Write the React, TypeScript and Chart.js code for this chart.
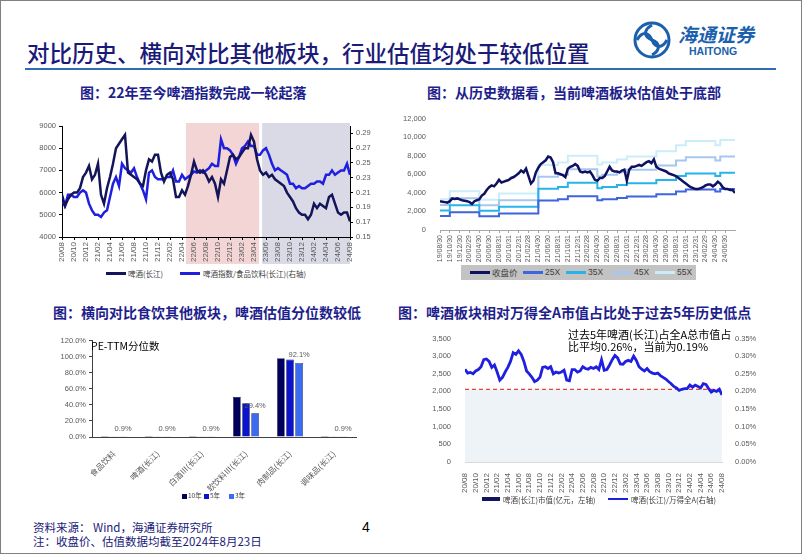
import React, { useEffect, useRef } from "react";
import { Chart, registerables } from "chart.js";

Chart.register(...registerables);

const LATIN = "'Liberation Sans', Arial, 'Noto Sans CJK SC', sans-serif";
const CJK = "'Noto Sans CJK SC', 'Liberation Sans', sans-serif";
const TICK_COLOR = "#595959";
const NAVY = "#14145a";
const BLUE = "#1f1fe0";

// ---------------- Chart 1: 啤酒指数 vs 啤酒/食品饮料 ----------------
const c1TickLabels = ["20/08", "20/10", "20/12", "21/02", "21/04", "21/06", "21/08", "21/10", "21/12", "22/02", "22/04", "22/06", "22/08", "22/10", "22/12", "23/02", "23/04", "23/06", "23/08", "23/10", "23/12", "24/02", "24/04", "24/06", "24/08"];
const c1PointsPerTick = 4;
const c1LeftMin = 4000;
const c1LeftMax = 9000;
const c1LeftStep = 500;
const c1RightTicks = [0.15, 0.17, 0.19, 0.21, 0.23, 0.25, 0.27, 0.29];
const c1RightMax = 0.3;
const c1Beer = [
  5900, 5400, 5700, 5900, 6000, 6000, 6200, 6700, 6900, 7200,
  6600, 6800, 7300, 5900, 5500, 6200, 6700, 7300, 8000, 8200,
  8400, 8600, 6900, 6800, 6700, 6600, 6400, 6300, 7000, 7500,
  7400, 7700, 7700, 6900, 6500, 6800, 6900, 6600, 5800, 5800,
  6100, 5900, 6300, 6800, 7400, 7000, 6900, 7000, 6800, 6500,
  6700, 6400, 5800, 6600, 6400, 7000, 7600, 7700, 7500, 7600,
  7800, 8000, 8000, 8600, 8300, 7500, 7000, 6800, 6900, 6700,
  6800, 6600, 6500, 6400, 6300, 6000, 5800, 5600, 5300, 5100,
  5000, 5000, 4800, 5000, 5500, 5300, 5500, 5400, 5300, 5800,
  5900, 5500, 5100, 5000, 5100, 5100, 4700,
];
const c1Ratio = [
  0.198, 0.192, 0.207, 0.207, 0.204, 0.204, 0.21, 0.213, 0.21, 0.195,
  0.186, 0.18, 0.18, 0.177, 0.183, 0.186, 0.204, 0.222, 0.231, 0.219,
  0.249, 0.243, 0.24, 0.237, 0.243, 0.231, 0.222, 0.213, 0.201, 0.237,
  0.24, 0.231, 0.228, 0.228, 0.228, 0.231, 0.231, 0.24, 0.225, 0.225,
  0.234, 0.228, 0.231, 0.234, 0.2385, 0.237, 0.24, 0.237, 0.24, 0.243,
  0.249, 0.246, 0.246, 0.282, 0.27, 0.27, 0.267, 0.261, 0.249, 0.258,
  0.27, 0.273, 0.279, 0.273, 0.273, 0.261, 0.261, 0.267, 0.27, 0.261,
  0.249, 0.24, 0.243, 0.24, 0.237, 0.234, 0.222, 0.222, 0.216, 0.219,
  0.216, 0.216, 0.219, 0.222, 0.222, 0.225, 0.225, 0.222, 0.234, 0.234,
  0.24, 0.234, 0.237, 0.24, 0.24, 0.249, 0.234,
];
const c1BandStart = [41.3, 66.7];
const c1BandEnd = [65.7, 96];
const c1BandColors = ["#f3d5d5", "#d9dae6"];

// ---------------- Chart 2: PE band ----------------
const c2TickLabels = ["19/08/30", "19/10/30", "19/12/30", "20/02/29", "20/04/30", "20/06/30", "20/08/31", "20/10/31", "20/12/31", "21/02/28", "21/04/30", "21/06/30", "21/08/31", "21/10/31", "21/12/31", "22/02/28", "22/04/30", "22/06/30", "22/08/31", "22/10/31", "22/12/31", "23/02/28", "23/04/30", "23/06/30", "23/08/31", "23/10/31", "23/12/31", "24/02/29", "24/04/30", "24/06/30"];
const c2MonthsPerTick = 2;
const c2MonthsPerPoint = 0.5;
const c2MaxMonth = 60;
const c2Close = [
  3100, 3050, 3000, 2950, 3100, 3400, 3350, 3400, 3300, 3200,
  3150, 3100, 3000, 2800, 3100, 3200, 3300, 3700, 3900, 4300,
  4600, 4800, 4700, 5000, 5400, 5100, 5200, 5300, 5400, 5600,
  5700, 5900, 6100, 6400, 6200, 6600, 5800, 5000, 5300, 6200,
  6700, 7100, 7300, 7500, 7900, 7800, 7300, 6100, 6100, 6000,
  5900, 5700, 6600, 6800, 6900, 7100, 6900, 6300, 6200, 6300,
  6200, 6300, 5900, 5400, 5300, 5600, 5600, 5800, 6300, 6800,
  6400, 6300, 6300, 6200, 6400, 6500, 5300, 6500, 6800, 6800,
  6900, 7000, 6900, 7100, 7300, 7400, 7200, 7600, 6800, 6600,
  6500, 6400, 6300, 6100, 6000, 5900, 5800, 5600, 5400, 5200,
  5000, 4800, 4600, 4500, 4400, 4400, 4500, 4600, 4800, 4900,
  4900, 4700, 4900, 5200, 5000, 4600, 4400, 4400, 4300, 4300,
  4000,
];
const c2StepMonths = [0, 2, 8, 12, 20, 24, 26, 32, 33, 36, 38, 44, 48, 50, 56, 57, 60];
const c2Pe25 = [1500, 1900, 1480, 1780, 3180, 3300, 3630, 3200, 3300, 3450, 3600, 3850, 4150, 4350, 4150, 4400, 4400];
const c2Pe35 = [2100, 2660, 2070, 2490, 4450, 4620, 5080, 4480, 4620, 4830, 5040, 5390, 5810, 6090, 5810, 6160, 6160];
const c2Pe45 = [2700, 3420, 2660, 3200, 5720, 5940, 6530, 5760, 5940, 6210, 6480, 6930, 7470, 7830, 7470, 7920, 7920];
const c2Pe55 = [3300, 4180, 3260, 3920, 7000, 7260, 7990, 7040, 7260, 7590, 7920, 8470, 9130, 9570, 9130, 9680, 9680];

// ---------------- Chart 3: PE-TTM 分位数 ----------------
const c3Categories = ["食品饮料", "啤酒(长江)", "白酒Ⅲ(长江)", "软饮料Ⅲ(长江)", "肉制品(长江)", "调味品(长江)"];
const c3Y10 = [0.1, 0.1, 0.1, 49.6, 98.0, 0.1];
const c3Y5 = [0.4, 0.4, 0.4, 41.9, 96.3, 0.4];
const c3Y3 = [0.9, 0.9, 0.9, 29.4, 92.1, 0.9];

// ---------------- Chart 4: 啤酒/万得全A ----------------
const c4TickLabels = c1TickLabels;
const c4PointsPerTick = 4;
const c4LeftTicks = [0, 500, 1000, 1500, 2000, 2500, 3000, 3500];
const c4RightTicks = [0, 0.05, 0.1, 0.15, 0.2, 0.25, 0.3, 0.35];
const c4Ratio = [
  0.263, 0.252, 0.254, 0.25, 0.258, 0.262, 0.27, 0.29, 0.292, 0.285,
  0.268, 0.275, 0.255, 0.232, 0.24, 0.255, 0.268, 0.285, 0.31, 0.305,
  0.315, 0.305, 0.285, 0.258, 0.25, 0.24, 0.228, 0.232, 0.24, 0.268,
  0.27, 0.265, 0.27, 0.25, 0.255, 0.252, 0.255, 0.26, 0.232, 0.23,
  0.262, 0.262, 0.255, 0.258, 0.27, 0.265, 0.263, 0.268, 0.265, 0.27,
  0.262, 0.29, 0.26, 0.262, 0.275, 0.29, 0.302, 0.295, 0.278, 0.277,
  0.285, 0.288, 0.285, 0.3, 0.288, 0.27, 0.263, 0.258, 0.265, 0.256,
  0.252, 0.25, 0.252, 0.245, 0.24, 0.235, 0.228, 0.222, 0.214, 0.21,
  0.203, 0.206, 0.208, 0.208, 0.218, 0.212, 0.218, 0.214, 0.21, 0.222,
  0.22, 0.208, 0.198, 0.203, 0.2, 0.206, 0.19,
];
const c4AvgLevel = 0.206;
const c4AvgFrom = 0;
const c4AvgTo = 96;

// ---------------- helpers ----------------
const fixWidth = (w: number) => (s: any) => { s.width = w; };
const fixHeight = (h: number) => (s: any) => { s.height = h; };
const tickFont = (size: number, family = LATIN) => ({ family, size });

const c1BandPlugin = {
  id: "c1bands",
  beforeDraw(chart: any) {
    const { ctx, chartArea, scales } = chart;
    ctx.save();
    c1BandStart.forEach((from, i) => {
      const x0 = scales.x.getPixelForValue(from);
      const x1 = scales.x.getPixelForValue(c1BandEnd[i]);
      ctx.fillStyle = c1BandColors[i];
      ctx.fillRect(x0, chartArea.top - 3, x1 - x0, chartArea.bottom - chartArea.top + 30);
    });
    ctx.restore();
  },
};

const c3LabelPlugin = {
  id: "c3labels",
  afterDatasetsDraw(chart: any) {
    const { ctx } = chart;
    const meta = chart.getDatasetMeta(2);
    ctx.save();
    ctx.font = `7.5px ${LATIN}`;
    ctx.fillStyle = TICK_COLOR;
    ctx.textAlign = "center";
    ctx.textBaseline = "bottom";
    meta.data.forEach((el: any, i: number) => {
      ctx.fillText(c3Y3[i].toFixed(1) + "%", el.x, el.y - 4);
    });
    ctx.restore();
  },
};

function buildChart1(canvas: HTMLCanvasElement) {
  return new Chart(canvas, {
    type: "line",
    data: {
      datasets: [
        { label: "啤酒(长江)", data: c1Beer.map((v, i) => ({ x: i, y: v })), yAxisID: "y", borderColor: NAVY, borderWidth: 2.5, pointRadius: 0 },
        { label: "啤酒指数/食品饮料(长江)(右轴)", data: c1Ratio.map((v, i) => ({ x: i, y: v })), yAxisID: "y1", borderColor: BLUE, borderWidth: 2.5, pointRadius: 0 },
      ],
    },
    options: {
      responsive: false,
      animation: false,
      devicePixelRatio: 1,
      layout: { padding: { top: 8, left: 0, right: 0, bottom: 0 } },
      plugins: { legend: { display: false }, tooltip: { enabled: false } },
      scales: {
        x: {
          type: "linear",
          min: 0,
          max: (c1TickLabels.length - 1) * c1PointsPerTick,
          afterBuildTicks: (s: any) => { s.ticks = c1TickLabels.map((_, i) => ({ value: i * c1PointsPerTick })); },
          afterFit: fixHeight(31),
          ticks: { autoSkip: false, minRotation: 90, maxRotation: 90, padding: 2, color: TICK_COLOR, font: tickFont(8), callback: (v: any) => c1TickLabels[Math.round(v / c1PointsPerTick)] },
          grid: { display: true, drawOnChartArea: false, tickLength: 3, color: "#000" },
          border: { display: true, color: "#000" },
        },
        y: {
          position: "left",
          min: c1LeftMin,
          max: c1LeftMax,
          afterFit: fixWidth(42),
          ticks: { stepSize: c1LeftStep, padding: 3, color: TICK_COLOR, font: tickFont(7.5), callback: (v: any) => String(v) },
          grid: { display: true, drawOnChartArea: false, tickLength: 3, color: "#000" },
          border: { display: true, color: "#000" },
        },
        y1: {
          position: "right",
          min: c1RightTicks[0],
          max: c1RightMax,
          afterBuildTicks: (s: any) => { s.ticks = c1RightTicks.map((v) => ({ value: v })); },
          afterFit: fixWidth(40),
          ticks: { padding: 3, color: TICK_COLOR, font: tickFont(7.5), callback: (v: any) => Number(v).toFixed(2) },
          grid: { display: true, drawOnChartArea: false, tickLength: 3, color: "#000" },
          border: { display: true, color: "#000" },
        },
      },
    },
    plugins: [c1BandPlugin],
  } as any);
}

function stepData(values: number[]) {
  return values.map((v, i) => ({ x: c2StepMonths[i], y: v }));
}

function buildChart2(canvas: HTMLCanvasElement) {
  const stepStyle = { stepped: true, borderWidth: 2, pointRadius: 0 };
  return new Chart(canvas, {
    type: "line",
    data: {
      datasets: [
        { label: "收盘价", data: c2Close.map((v, i) => ({ x: i * c2MonthsPerPoint, y: v })), borderColor: "#101060", borderWidth: 2.5, pointRadius: 0 },
        { label: "25X", data: stepData(c2Pe25), borderColor: "#3e64e0", ...stepStyle },
        { label: "35X", data: stepData(c2Pe35), borderColor: "#27b4ea", ...stepStyle },
        { label: "45X", data: stepData(c2Pe45), borderColor: "#a7c7ee", ...stepStyle },
        { label: "55X", data: stepData(c2Pe55), borderColor: "#cbedf9", ...stepStyle },
      ],
    },
    options: {
      responsive: false,
      animation: false,
      devicePixelRatio: 1,
      layout: { padding: { top: 9, left: 0, right: 15, bottom: 0 } },
      plugins: { legend: { display: false }, tooltip: { enabled: false } },
      scales: {
        x: {
          type: "linear",
          min: 0,
          max: c2MaxMonth,
          afterBuildTicks: (s: any) => { s.ticks = c2TickLabels.map((_, i) => ({ value: i * c2MonthsPerTick })); },
          afterFit: fixHeight(35),
          ticks: { autoSkip: false, minRotation: 90, maxRotation: 90, padding: 2, color: TICK_COLOR, font: tickFont(7), callback: (v: any) => c2TickLabels[Math.round(v / c2MonthsPerTick)] },
          grid: { display: true, drawOnChartArea: false, tickLength: 3, color: "#a6a6a6" },
          border: { display: true, color: "#a6a6a6" },
        },
        y: {
          min: 0,
          max: 12000,
          afterFit: fixWidth(45),
          ticks: { stepSize: 2000, padding: 6, color: TICK_COLOR, font: tickFont(7.5), callback: (v: any) => Number(v).toLocaleString("en-US") },
          grid: { display: false },
          border: { display: false },
        },
      },
    },
  } as any);
}

function buildChart3(canvas: HTMLCanvasElement) {
  const common = { categoryPercentage: 0.62, barPercentage: 0.85, borderWidth: 0.6, borderColor: "#101040" };
  return new Chart(canvas, {
    type: "bar",
    data: {
      labels: c3Categories,
      datasets: [
        { label: "10年", data: c3Y10, backgroundColor: "#00005c", ...common },
        { label: "5年", data: c3Y5, backgroundColor: "#0a14cf", ...common },
        { label: "3年", data: c3Y3, backgroundColor: "#3a6cf0", ...common },
      ],
    },
    options: {
      responsive: false,
      animation: false,
      devicePixelRatio: 1,
      layout: { padding: { top: 7, left: 0, right: 9, bottom: 0 } },
      plugins: { legend: { display: false }, tooltip: { enabled: false } },
      scales: {
        x: {
          afterFit: fixHeight(56),
          ticks: { autoSkip: false, minRotation: 45, maxRotation: 45, padding: 4, color: TICK_COLOR, font: tickFont(8, CJK) },
          grid: { display: false },
          border: { display: true, color: "#404040" },
        },
        y: {
          min: 0,
          max: 120,
          afterFit: fixWidth(57),
          ticks: { stepSize: 20, padding: 3, color: TICK_COLOR, font: tickFont(7.5), callback: (v: any) => Number(v).toFixed(1) + "%" },
          grid: { display: true, drawOnChartArea: false, tickLength: 3, color: "#404040" },
          border: { display: true, color: "#404040" },
        },
      },
    },
    plugins: [c3LabelPlugin],
  } as any);
}

function buildChart4(canvas: HTMLCanvasElement) {
  return new Chart(canvas, {
    type: "line",
    data: {
      datasets: [
        { label: "啤酒(长江)/万得全A(右轴)", data: c4Ratio.map((v, i) => ({ x: i, y: v })), yAxisID: "y1", borderColor: BLUE, borderWidth: 2.8, pointRadius: 0 },
        { label: "avg", data: [{ x: c4AvgFrom, y: c4AvgLevel }, { x: c4AvgTo, y: c4AvgLevel }], yAxisID: "y1", borderColor: "#e8403a", borderWidth: 1.2, borderDash: [4, 3], pointRadius: 0, fill: "origin", backgroundColor: "#eef3f7" },
      ],
    },
    options: {
      responsive: false,
      animation: false,
      devicePixelRatio: 1,
      layout: { padding: { top: 7, left: 0, right: 0, bottom: 0 } },
      plugins: { legend: { display: false }, tooltip: { enabled: false } },
      scales: {
        x: {
          type: "linear",
          min: 0,
          max: (c4TickLabels.length - 1) * c4PointsPerTick,
          afterBuildTicks: (s: any) => { s.ticks = c4TickLabels.map((_, i) => ({ value: i * c4PointsPerTick })); },
          afterFit: fixHeight(31),
          ticks: { autoSkip: false, minRotation: 90, maxRotation: 90, padding: 3, color: TICK_COLOR, font: tickFont(8), callback: (v: any) => c4TickLabels[Math.round(v / c4PointsPerTick)] },
          grid: { display: false },
          border: { display: true, color: "#d9d9d9" },
        },
        y: {
          position: "left",
          min: 0,
          max: 3500,
          afterBuildTicks: (s: any) => { s.ticks = c4LeftTicks.map((v) => ({ value: v })); },
          afterFit: fixWidth(50),
          ticks: { padding: 6, color: TICK_COLOR, font: tickFont(7.5), callback: (v: any) => Number(v).toLocaleString("en-US") },
          grid: { display: false },
          border: { display: false },
        },
        y1: {
          position: "right",
          min: 0,
          max: 0.35,
          afterBuildTicks: (s: any) => { s.ticks = c4RightTicks.map((v) => ({ value: v })); },
          afterFit: fixWidth(38),
          ticks: { padding: 5, color: TICK_COLOR, font: tickFont(7.5), callback: (v: any) => Number(v).toFixed(2) + "%" },
          grid: { display: false },
          border: { display: false },
        },
      },
    },
  } as any);
}

function ChartCanvas({ x, y, w, h, build }: { x: number; y: number; w: number; h: number; build: (c: HTMLCanvasElement) => Chart }) {
  const ref = useRef<HTMLCanvasElement>(null);
  useEffect(() => {
    const chart = build(ref.current as HTMLCanvasElement);
    return () => chart.destroy();
  }, [build]);
  return <canvas ref={ref} width={w} height={h} style={{ position: "absolute", left: x, top: y, width: w, height: h }} />;
}

function Txt({ x, y, size, color = "#000", weight = 400, family = CJK, italic = false, children }: any) {
  return (
    <div style={{ position: "absolute", left: x, top: y - size * 0.6, fontSize: size, lineHeight: `${size * 1.2}px`, color, fontWeight: weight, fontFamily: family, fontStyle: italic ? "italic" : "normal", whiteSpace: "nowrap" }}>
      {children}
    </div>
  );
}

function Swatch({ x, y, w, h, color }: any) {
  return <div style={{ position: "absolute", left: x, top: y - h / 2, width: w, height: h, background: color }} />;
}

export default function App() {
  const TITLE = "#1a1a78";
  const SUB = "#1e1e8c";
  const LEG = "#404040";
  return (
    <div style={{ position: "absolute", left: 0, top: 0, width: 802, height: 554, background: "#fff", overflow: "hidden" }}>
      {/* header */}
      <Txt x={27} y={52} size={22.5} color={TITLE} weight={500}>对比历史、横向对比其他板块，行业估值均处于较低位置</Txt>
      <div style={{ position: "absolute", left: 25, top: 68, width: 751, height: 2, background: "#2f6db5" }} />
      <svg style={{ position: "absolute", left: 632, top: 20 }} width={40} height={40} viewBox="0 0 40 40">
        <circle cx="20" cy="20" r="17" fill="none" stroke="#1b60ad" strokeWidth="3" />
        <path d="M20 5 C 11 10, 12 17, 20 20 C 28 23, 29 30, 20 35" fill="none" stroke="#1b60ad" strokeWidth="3" />
        <path d="M5 20 C 10 11, 17 12, 20 20 C 23 28, 30 29, 35 20" fill="none" stroke="#1b60ad" strokeWidth="3" />
      </svg>
      <Txt x={678} y={34} size={19} color="#1b60ad" weight={700} italic>海通证券</Txt>
      <Txt x={689} y={51} size={10.5} color="#1b60ad" weight={700} family={LATIN}>HAITONG</Txt>

      {/* subtitles */}
      <Txt x={80} y={92} size={14} color={SUB} weight={700}>图：22年至今啤酒指数完成一轮起落</Txt>
      <Txt x={427} y={92} size={14} color={SUB} weight={700}>图：从历史数据看，当前啤酒板块估值处于底部</Txt>
      <Txt x={53} y={312} size={14} color={SUB} weight={700}>图：横向对比食饮其他板块，啤酒估值分位数较低</Txt>
      <Txt x={398} y={312} size={14} color={SUB} weight={700}>图：啤酒板块相对万得全A市值占比处于过去5年历史低点</Txt>

      {/* chart 1 */}
      <ChartCanvas x={20} y={118} w={370} h={150} build={buildChart1} />
      <Swatch x={106} y={273} w={20} h={3} color={NAVY} />
      <Txt x={128} y={273} size={7.5} color={LEG}>啤酒(长江)</Txt>
      <Swatch x={180} y={273} w={20} h={3} color={BLUE} />
      <Txt x={203} y={273} size={7.5} color={LEG}>啤酒指数/食品饮料(长江)(右轴)</Txt>

      {/* chart 2 */}
      <ChartCanvas x={395} y={108} w={355} h={157} build={buildChart2} />
      <div style={{ position: "absolute", left: 461, top: 265, width: 235, height: 15, background: "#c3c3c3" }} />
      <Swatch x={470} y={272.5} w={20} h={3} color="#101060" />
      <Txt x={492} y={272.5} size={8.5} color={LEG}>收盘价</Txt>
      <Swatch x={523} y={272.5} w={20} h={3} color="#3e64e0" />
      <Txt x={545} y={272.5} size={8.5} color={LEG} family={LATIN}>25X</Txt>
      <Swatch x={566} y={272.5} w={20} h={3} color="#27b4ea" />
      <Txt x={588} y={272.5} size={8.5} color={LEG} family={LATIN}>35X</Txt>
      <Swatch x={612} y={272.5} w={20} h={3} color="#a7c7ee" />
      <Txt x={634} y={272.5} size={8.5} color={LEG} family={LATIN}>45X</Txt>
      <Swatch x={655} y={272.5} w={20} h={3} color="#cbedf9" />
      <Txt x={677} y={272.5} size={8.5} color={LEG} family={LATIN}>55X</Txt>

      {/* chart 3 */}
      <ChartCanvas x={35} y={333} w={330} h={160} build={buildChart3} />
      <Txt x={91} y={346} size={10.5} color="#000">PE-TTM分位数</Txt>
      <Swatch x={182} y={496} w={5} h={5} color="#00005c" />
      <Txt x={188} y={496} size={6.5} color={LEG}>10年</Txt>
      <Swatch x={204} y={496} w={5} h={5} color="#0a14cf" />
      <Txt x={210} y={496} size={6.5} color={LEG}>5年</Txt>
      <Swatch x={229} y={496} w={5} h={5} color="#3a6cf0" />
      <Txt x={235} y={496} size={6.5} color={LEG}>3年</Txt>

      {/* chart 4 */}
      <ChartCanvas x={415} y={328} w={345} h={165} build={buildChart4} />
      <Txt x={568} y={335} size={11} color="#000">过去5年啤酒(长江)占全A总市值占</Txt>
      <Txt x={568} y={347} size={11} color="#000">比平均0.26%，当前为0.19%</Txt>
      <Swatch x={482} y={499} w={18} h={4} color={NAVY} />
      <Txt x={503} y={499} size={7.5} color={LEG}>啤酒(长江)市值(亿元，左轴)</Txt>
      <Swatch x={608} y={499} w={20} h={2.5} color={BLUE} />
      <Txt x={631} y={499} size={7.5} color={LEG}>啤酒(长江)/万得全A(右轴)</Txt>

      {/* footer */}
      <Txt x={33} y={528} size={11.5} color={TITLE}>资料来源： Wind，海通证券研究所</Txt>
      <Txt x={33} y={542} size={11.5} color={TITLE}>注：收盘价、估值数据均截至2024年8月23日</Txt>
      <Txt x={362} y={527} size={14} color="#000" family={LATIN}>4</Txt>

      <div style={{ position: "absolute", left: 0, top: 0, width: 802, height: 554, boxSizing: "border-box", border: "1px solid #808080", pointerEvents: "none" }} />
    </div>
  );
}
